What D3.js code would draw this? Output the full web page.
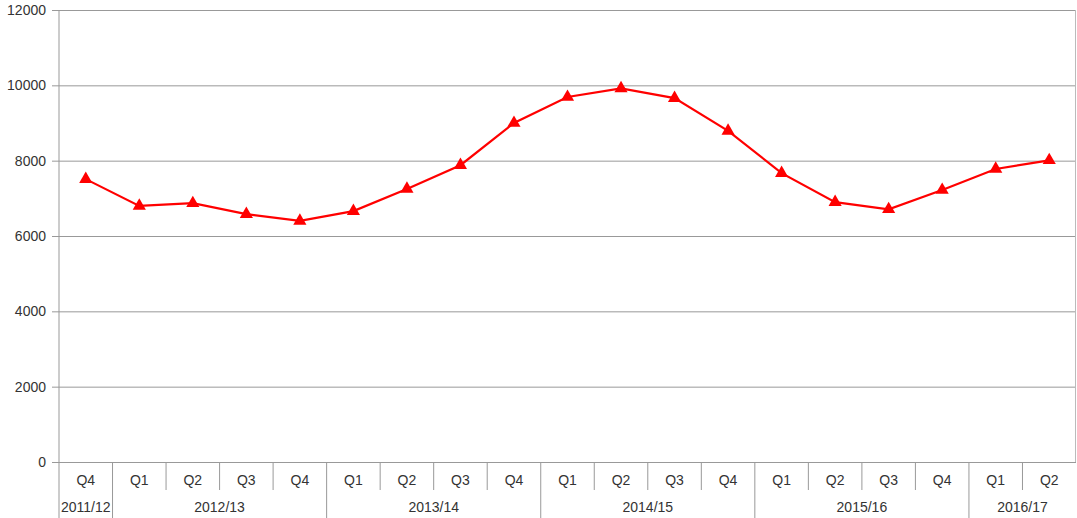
<!DOCTYPE html>
<html>
<head>
<meta charset="utf-8">
<script src="https://cdn.jsdelivr.net/npm/d3@7"></script>
<style>
  body { margin: 0; background: #fff; }
  text { font-family: "Liberation Sans", Arial, sans-serif; fill: #333; }
</style>
</head>
<body>
<script>
// quarterly values, Q4 2011/12 to Q2 2016/17
const quarters = ["Q4", "Q1", "Q2", "Q3", "Q4", "Q1", "Q2", "Q3", "Q4", "Q1", "Q2", "Q3", "Q4", "Q1", "Q2", "Q3", "Q4", "Q1", "Q2"]
const years = ["2011/12", "2012/13", "2012/13", "2012/13", "2012/13", "2013/14", "2013/14", "2013/14", "2013/14",
  "2014/15", "2014/15", "2014/15", "2014/15", "2015/16", "2015/16", "2015/16", "2015/16", "2016/17", "2016/17"]
const values = [7510, 6800, 6870, 6580, 6400, 6660, 7250, 7880, 9000, 9690, 9920, 9660, 8790, 7670, 6900, 6710, 7220, 7780, 8010]
const yTicks = [0, 2000, 4000, 6000, 8000, 10000, 12000]

const width = 1077, height = 518
const margin = { top: 10, right: 1, bottom: 56, left: 59 }
const fontSize = "14px"

const svg = d3.select("body").append("svg")
  .attr("width", width)
  .attr("height", height)

const idx = d3.range(values.length)
const x = d3.scaleBand()
  .domain(idx)
  .range([margin.left, width - margin.right])
const y = d3.scaleLinear()
  .domain([0, 12000])
  .range([height - margin.bottom, margin.top])

const grid = "#999"

// horizontal gridlines + y labels
const yAxis = svg.append("g")
  .attr("transform", `translate(${margin.left},0)`)
  .call(d3.axisLeft(y).tickValues(yTicks).tickSize(7).tickPadding(6).tickFormat(d3.format("d")))
yAxis.select(".domain").remove()
yAxis.selectAll(".tick line").attr("stroke", grid)
yAxis.selectAll(".tick text").style("font-size", fontSize).attr("fill", "#333")
yAxis.selectAll(".tick").append("line")
  .attr("x1", 0)
  .attr("x2", width - margin.right - margin.left)
  .attr("stroke", grid)

// left axis line, extends through the category table
svg.append("line")
  .attr("x1", margin.left).attr("x2", margin.left)
  .attr("y1", margin.top).attr("y2", height)
  .attr("stroke", grid)
// right border
svg.append("line")
  .attr("x1", width - margin.right - 0.5).attr("x2", width - margin.right - 0.5)
  .attr("y1", margin.top).attr("y2", y(0))
  .attr("stroke", "#bbb")

// category separators
const y0 = y(0)
idx.slice(1).forEach(i => {
  const newYear = years[i] !== years[i - 1]
  svg.append("line")
    .attr("x1", x(i)).attr("x2", x(i))
    .attr("y1", y0).attr("y2", newYear ? height : y0 + 28)
    .attr("stroke", grid)
})

// quarter labels
svg.append("g").selectAll("text")
  .data(idx)
  .join("text")
  .attr("x", i => x(i) + x.bandwidth() / 2)
  .attr("y", y0 + 23)
  .attr("text-anchor", "middle")
  .style("font-size", fontSize)
  .text(i => quarters[i])

// year labels centred on their group
const yearGroups = d3.groups(idx, i => years[i])
svg.append("g").selectAll("text")
  .data(yearGroups)
  .join("text")
  .attr("x", ([, ii]) => (x(ii[0]) + x(ii[ii.length - 1]) + x.bandwidth()) / 2)
  .attr("y", y0 + 50)
  .attr("text-anchor", "middle")
  .style("font-size", fontSize)
  .text(([yr]) => yr)

// series line
const line = d3.line()
  .x(i => x(i) + x.bandwidth() / 2)
  .y(i => y(values[i]))
svg.append("path")
  .datum(idx)
  .attr("d", line)
  .attr("fill", "none")
  .attr("stroke", "#f00")
  .attr("stroke-width", 2.2)

// triangle markers
const tri = d3.symbol().type(d3.symbolTriangle).size(75)
svg.append("g").selectAll("path")
  .data(idx)
  .join("path")
  .attr("transform", i => `translate(${x(i) + x.bandwidth() / 2},${y(values[i])})`)
  .attr("d", tri)
  .attr("fill", "#f00")
</script>
</body>
</html>
